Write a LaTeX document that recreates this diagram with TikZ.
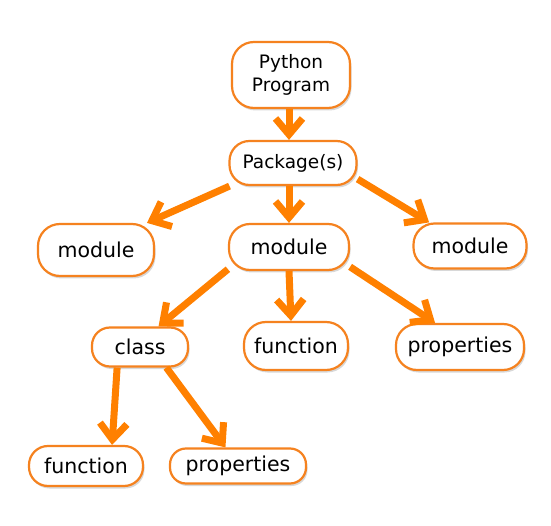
\documentclass[tikz,border=0pt]{standalone}
\usepackage{fontspec}
\setmainfont{DejaVu Sans}
\usetikzlibrary{arrows.meta,shadows,calc}
\definecolor{arr}{HTML}{FF8000}
\definecolor{bord}{HTML}{F5821F}
\begin{document}
\begin{tikzpicture}[x=1pt,y=-1pt,
  box/.style={draw=bord,line width=2.2pt,fill=white,rounded corners=#1,
    align=center,inner sep=0pt,
    drop shadow={shadow xshift=1.5pt,shadow yshift=-2.5pt,opacity=0.25,fill=black!60}},
  box/.default=20pt,
  fbig/.style={font=\fontsize{20.5}{22}\selectfont},
  fsmall/.style={font=\fontsize{18.5}{23}\selectfont},
  conn/.style={draw=arr,line width=7pt,-{Straight Barb[length=16pt,width=27pt]}}]
\fill[white] (0,0) rectangle (551,526);
\useasboundingbox (0,0) rectangle (551,526);
\node[box=22pt,fsmall,minimum width=118pt,minimum height=66pt] (pp) at (291,75) {Python\\Program};
\node[box=20pt,fsmall,minimum width=127pt,minimum height=44pt] (pkg) at (293,163) {Package(s)};
\node[box=22pt,fbig,minimum width=116pt,minimum height=52pt] (ml) at (96,250) {module};
\node[box=21pt,fbig,minimum width=120pt,minimum height=46pt] (mc) at (289,247) {module};
\node[box=21pt,fbig,minimum width=113pt,minimum height=45pt] (mr) at (470,246) {module};
\node[box=18pt,fbig,minimum width=96pt,minimum height=39pt] (cls) at (140,347) {class};
\node[box=22pt,fbig,minimum width=104pt,minimum height=48pt] (fm) at (296,346) {function};
\node[box=21pt,fbig,minimum width=128pt,minimum height=46pt] (pr) at (460,347) {properties};
\node[box=19pt,fbig,minimum width=114pt,minimum height=40pt] (fb) at (86,466) {function};
\node[box=16pt,fbig,minimum width=136pt,minimum height=35pt] (pb) at (238,466) {properties};
\draw[conn] (pp.south -| pkg.north) ++(-4,0) coordinate (a1) -- (a1 |- pkg.north);
\draw[conn] (pkg.200) -- (ml.28);
\draw[conn] (mc.north |- pkg.south) -- (mc.north);
\draw[conn] (pkg.346) -- (mr.150);
\draw[conn] (mc.200) -- (cls.48);
\draw[conn] (mc.south) -- ($(fm.north)+(-5,0)$);
\draw[conn] (mc.342) -- (pr.136);
\draw[conn] (cls.222) -- (fb.39);
\draw[conn] (cls.322) -- (pb.124);
\end{tikzpicture}
\end{document}
